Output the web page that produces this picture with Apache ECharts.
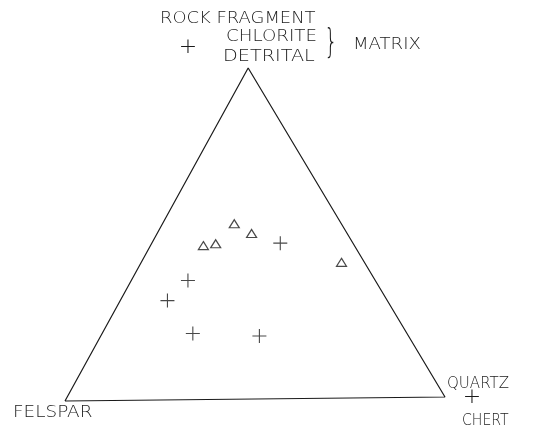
<!DOCTYPE html>
<html>
<head>
<meta charset="utf-8">
<script src="https://cdn.jsdelivr.net/npm/echarts@6/dist/echarts.min.js"></script>
<style>
    html, body { margin: 0; padding: 0; background: #fff; }
    #chart { width: 540px; height: 434px; }
</style>
</head>
<body>
<div id="chart"></div>
<script>
// ternary compositions, percent of (quartz + chert, felspar, rock fragment + matrix)
const triangleQuartz = [19, 25, 14, 17, 53]
const triangleFelspar = [28, 25, 39.5, 36, 6]
const triangleRock = [53, 50, 46.5, 47, 41]

const crossQuartz = [34, 15, 12.5, 24, 42]
const crossFelspar = [19, 49, 57.5, 56, 39]
const crossRock = [47, 36, 30, 20, 19]

// corners of the diagram: felspar, quartz, rock fragment, back to felspar
const cornerQuartz = [0, 100, 0, 0]
const cornerFelspar = [100, 0, 0, 100]
const cornerRock = [0, 0, 100, 0]

// where each corner sits in the plot space (the drawing is slightly skewed)
const V_F = [0, -0.006]
const V_Q = [1, 0.006]
const V_R = [0.482, 1]

const toXY = (q, f, r) => {
    const s = q + f + r
    return [
        (f * V_F[0] + q * V_Q[0] + r * V_R[0]) / s,
        (f * V_F[1] + q * V_Q[1] + r * V_R[1]) / s,
    ]
}
const points = (qs, fs, rs) => qs.map((q, i) => toXY(q, fs[i], rs[i]))

const INK = '#1a1a1a'
const FONT = 'DejaVu Sans'

const label = (text, x, y, sx, size) => ({
    type: 'text',
    x, y,
    scaleX: sx,
    style: {
        text,
        fill: INK,
        font: `200 ${size || 16}px "${FONT}"`,
        textAlign: 'left',
        textVerticalAlign: 'middle',
    },
})
const centered = (text, x, y, size, sx, sy) => ({
    type: 'text',
    x, y,
    scaleX: sx || 1,
    scaleY: sy || 1,
    style: {
        text,
        fill: INK,
        font: `200 ${size}px "${FONT}"`,
        textAlign: 'center',
        textVerticalAlign: 'middle',
    },
})

const chart = echarts.init(document.getElementById('chart'), null, { renderer: 'canvas' })
chart.setOption({
    backgroundColor: '#fff',
    animation: false,
    grid: { left: 65, right: 95, top: 68, bottom: 35 },
    xAxis: { type: 'value', min: 0, max: 1, show: false },
    yAxis: { type: 'value', min: 0, max: 1, show: false },
    series: [
        {
            type: 'line',
            data: points(cornerQuartz, cornerFelspar, cornerRock),
            symbol: 'none',
            clip: false,
            lineStyle: { color: INK, width: 1.2 },
            silent: true,
        },
        {
            type: 'scatter',
            data: points(crossQuartz, crossFelspar, crossRock),
            symbol: 'path://M0,7L14,7M7,0L7,14',
            symbolSize: 14,
            itemStyle: { color: 'transparent', borderColor: INK, borderWidth: 1.1 },
        },
        {
            type: 'scatter',
            data: points(triangleQuartz, triangleFelspar, triangleRock),
            symbol: 'triangle',
            symbolSize: [10, 8],
            itemStyle: { color: '#fff', borderColor: INK, borderWidth: 1.2 },
        },
    ],
    graphic: [
        label('ROCK FRAGMENT', 160, 19, 1.12),
        centered('+', 188, 47, 22),
        label('CHLORITE', 226, 37, 1.14),
        label('DETRITAL', 223, 57, 1.2),
        centered('}', 331, 44, 30, 0.7, 1.1),
        label('MATRIX', 353, 45, 1.13),
        label('FELSPAR', 13, 413, 1.15),
        label('QUARTZ', 447, 384, 0.94),
        centered('+', 472, 397, 22),
        label('CHERT', 462, 421, 0.88),
    ],
})
</script>
</body>
</html>
